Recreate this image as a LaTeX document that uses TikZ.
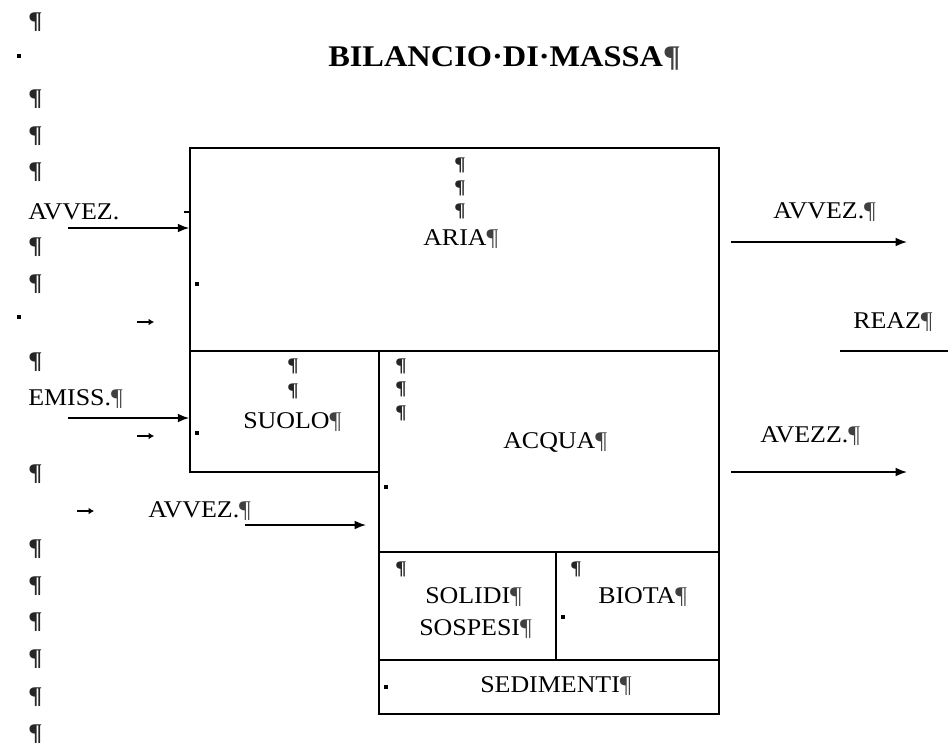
\documentclass[tikz,border=0pt]{standalone}
\usepackage{fontspec}
\setmainfont{Liberation Serif}[FakeStretch=1.08]
\usepackage{xcolor}
\usetikzlibrary{arrows.meta,fit}
\newcommand{\pmark}{\textcolor{black!75}{¶}}

\begin{document}
\begin{tikzpicture}[x=0.75pt, y=-0.75pt,
  box/.style={draw, line width=1.2pt, inner sep=0pt},
  lbl/.style={anchor=base west, inner sep=0pt, font=\fontsize{18}{20}\selectfont},
  ttl/.style={anchor=base west, inner sep=0pt, font=\fontsize{22.5}{25}\selectfont\bfseries},
  col/.style={anchor=base west, inner sep=0pt, text=black!85, font=\fontsize{18}{20}\selectfont\bfseries},
  pil/.style={anchor=base west, inner sep=0pt, text=black!85, font=\fontsize{14.5}{16}\selectfont\bfseries},
  arr/.style={-{Latex[length=8.5pt,width=6.5pt]}, line width=1.1pt},
  tabarr/.style={-{Latex[length=4pt,width=5pt]}, line width=1.1pt}
]
\useasboundingbox (0,0) rectangle (948,747);

\node[ttl] (title) at (328,66) {BILANCIO·DI·MASSA\pmark};

\node[box, fit={(190,148) (719,351)}] (aria) {};
\node[box, fit={(190,351) (379,472)}] (suolo) {};
\node[box, fit={(379,351) (719,552)}] (acqua) {};
\node[box, fit={(379,552) (556,660)}] (solidi) {};
\node[box, fit={(556,552) (719,660)}] (biota) {};
\node[box, fit={(379,660) (719,714)}] (sedim) {};

\foreach \y in {28,105,142,178,253,290,368,480,555,592,628,665,703,740}
  \node[col] (p\y) at (28,\y) {¶};
\foreach \x/\y in {454/170,454/193,454/216,287/371,287/396,395/371,395/394,395/418,395/574,570/574}
  \node[pil] (q\x-\y) at (\x,\y) {¶};
\foreach \x/\y in {19/56,19/317,197/284,197/433,386/487,386/687,563/617}
  \fill (\x-2,\y-2) rectangle ++(4,4);
\foreach \x/\y in {137/322,137/436,77/511}
  \draw[tabarr] (\x,\y) -- ++(17,0);
\draw[line width=0.8pt] (184,212) -- (189,212);

\node[lbl] (tAria) at (423,245) {ARIA\pmark};
\node[lbl] (tSuolo) at (243,428) {SUOLO\pmark};
\node[lbl] (tAcqua) at (503,448) {ACQUA\pmark};
\node[lbl] (tSolidi) at (425,603) {SOLIDI\pmark};
\node[lbl] (tSospesi) at (419,635) {SOSPESI\pmark};
\node[lbl] (tBiota) at (598,603) {BIOTA\pmark};
\node[lbl] (tSedim) at (480,692) {SEDIMENTI\pmark};

\node[lbl] (lAvvez) at (28,219) {AVVEZ.};
\node[lbl] (lEmiss) at (28,405) {EMISS.\pmark};
\node[lbl] (lAvvez2) at (148,517) {AVVEZ.\pmark};
\node[lbl] (rAvvez) at (773,218) {AVVEZ.\pmark};
\node[lbl] (rReaz) at (853,328) {REAZ\pmark};
\node[lbl] (rAvezz) at (760,442) {AVEZZ.\pmark};

\coordinate (inA) at (68,228);
\coordinate (inE) at (68,418);
\coordinate (inW1) at (245,525);
\coordinate (inW2) at (366,525);
\coordinate (outA1) at (731,242);
\coordinate (outA2) at (907,242);
\coordinate (outW1) at (731,472);
\coordinate (outW2) at (907,472);
\coordinate (reaz1) at (840,351);
\coordinate (reaz2) at (948,351);

\draw[arr] (inA) -- (inA -| aria.west);
\draw[arr] (inE) -- (inE -| suolo.west);
\draw[arr] (inW1) -- (inW2);
\draw[arr] (outA1) -- (outA2);
\draw[arr] (outW1) -- (outW2);
\draw[line width=1.1pt] (reaz1) -- (reaz2);

\end{tikzpicture}
\end{document}
